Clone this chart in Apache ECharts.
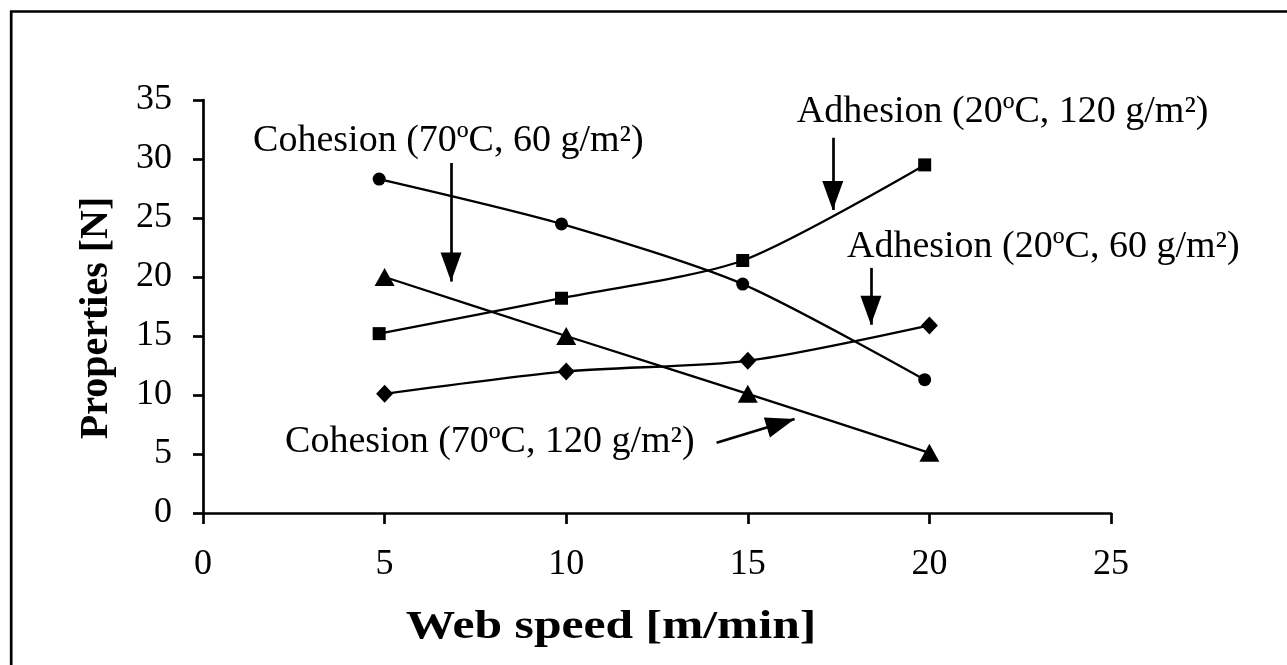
<!DOCTYPE html>
<html><head><meta charset="utf-8">
<script src="https://cdn.jsdelivr.net/npm/echarts@6/dist/echarts.min.js"></script>
<style>html,body{margin:0;padding:0;background:#fff}#c{width:1287px;height:665px}</style>
</head><body><div id="c"></div>
<script>
// Web speed [m/min] positions of each series' points
const cohesion60X = [4.85, 9.87, 14.86, 19.87];
const cohesion60Y = [28.3, 24.5, 19.4, 11.3];
const adhesion120X = [4.85, 9.87, 14.86, 19.87];
const adhesion120Y = [15.2, 18.2, 21.4, 29.5];
const adhesion60X = [5, 10, 15, 20];
const adhesion60Y = [10.1, 12.0, 12.9, 15.9];
const cohesion120X = [5, 10, 15, 20];
const cohesion120Y = [20.0, 15.0, 10.1, 5.1];

const xAxisTitle = 'Web speed [m/min]';
const yAxisTitle = 'Properties [N]';

// annotation labels: [x, y, text]
const labels = [
  [1.38, 31.5, 'Cohesion (70ºC, 60 g/m²)'],
  [16.35, 33.95, 'Adhesion (20ºC, 120 g/m²)'],
  [17.73, 22.5, 'Adhesion (20ºC, 60 g/m²)'],
  [2.26, 6.0, 'Cohesion (70ºC, 120 g/m²)']
];
// arrows: [[x1,y1],[x2,y2]] (tail -> tip)
const arrows = [
  [[6.83, 29.66], [6.83, 19.61]],
  [[17.34, 31.8], [17.34, 25.68]],
  [[18.39, 20.77], [18.39, 15.95]],
  [[14.14, 5.95], [16.29, 7.96]]
];

const FONT = "'Liberation Serif', 'Times New Roman', serif";
const zip = (xs, ys) => xs.map((x, i) => [x, ys[i]]);

function lineSeries(name, xs, ys, symbol, size) {
  return {
    name, type: 'line', data: zip(xs, ys), smooth: 0.25,
    symbol, symbolSize: size, showAllSymbol: true,
    lineStyle: { color: '#000', width: 2.3 },
    itemStyle: { color: '#000' },
    emphasis: { disabled: true }, silent: true, z: 3
  };
}

const chart = echarts.init(document.getElementById('c'), null, { renderer: 'canvas' });
chart.setOption({
  animation: false,
  backgroundColor: '#fff',
  graphic: [
    {
      type: 'rect', shape: { x: 11.2, y: 11.5, width: 1400, height: 800 },
      style: { fill: 'none', stroke: '#000', lineWidth: 2.7 }, silent: true
    },
    {
      type: 'text', x: 611, y: 628, scaleX: 1.24, silent: true,
      style: { text: xAxisTitle, font: "bold 40px " + FONT, fill: '#000', textAlign: 'center', textVerticalAlign: 'middle' }
    },
    {
      type: 'text', x: 97, y: 318, rotation: Math.PI / 2, silent: true,
      style: { text: yAxisTitle, font: "bold 40px " + FONT, fill: '#000', textAlign: 'center', textVerticalAlign: 'middle' }
    }
  ],
  grid: { left: 203, right: 176, top: 100, bottom: 152, containLabel: false },
  xAxis: {
    type: 'value', min: 0, max: 25, interval: 5,
    axisLine: { show: true, onZero: false, lineStyle: { color: '#000', width: 2.7 } },
    axisTick: { show: true, length: 11, lineStyle: { color: '#000', width: 2.7 } },
    axisLabel: { fontFamily: FONT, fontSize: 36, color: '#000', margin: 34 },
    splitLine: { show: false }
  },
  yAxis: {
    type: 'value', min: 0, max: 35, interval: 5,
    axisLine: { show: true, onZero: false, lineStyle: { color: '#000', width: 2.7 } },
    axisTick: { show: true, length: 10, lineStyle: { color: '#000', width: 2.7 } },
    axisLabel: { fontFamily: FONT, fontSize: 36, color: '#000', margin: 31 },
    splitLine: { show: false }
  },
  series: [
    lineSeries('Cohesion (70ºC, 60 g/m²)', cohesion60X, cohesion60Y, 'circle', 13),
    lineSeries('Adhesion (20ºC, 120 g/m²)', adhesion120X, adhesion120Y, 'rect', 13),
    lineSeries('Adhesion (20ºC, 60 g/m²)', adhesion60X, adhesion60Y, 'diamond', [17, 18]),
    lineSeries('Cohesion (70ºC, 120 g/m²)', cohesion120X, cohesion120Y, 'triangle', [20, 18]),
    {
      type: 'scatter', silent: true, symbolSize: 0,
      itemStyle: { color: '#000', opacity: 1 },
      data: labels.map(l => [l[0], l[1]]),
      label: {
        show: true, position: 'right', distance: 0,
        formatter: p => labels[p.dataIndex][2],
        fontFamily: FONT, fontSize: 38, color: '#000', opacity: 1,
        align: 'left', verticalAlign: 'middle'
      },
      markLine: {
        silent: true, animation: false,
        symbol: ['none', 'triangle'], symbolSize: [21, 29],
        symbolOffset: [[0, 0], [0, 14.5]],
        lineStyle: { color: '#000', width: 2.7, type: 'solid' },
        itemStyle: { color: '#000' },
        label: { show: false },
        emphasis: { disabled: true },
        data: arrows.map(a => [{ coord: a[0] }, { coord: a[1] }])
      },
      z: 4
    }
  ]
});
</script></body></html>
